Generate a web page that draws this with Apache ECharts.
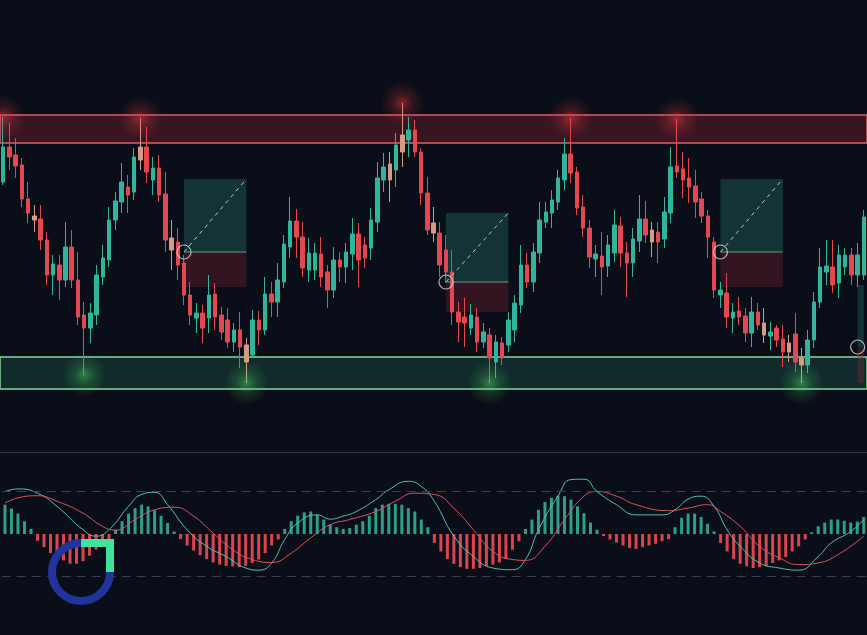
<!DOCTYPE html>
<html>
<head>
  <meta charset="utf-8">
  <title>Range chart</title>
  <script src="https://cdn.jsdelivr.net/npm/echarts@6/dist/echarts.min.js"></script>
  <style>
    html, body { margin: 0; padding: 0; background: #0a0e18; }
    #main { width: 867px; height: 635px; }
  </style>
</head>
<body>
  <div id="main"></div>
  <script>
  // candles: [open, close, low, high]
  var ohlc = [
    [67.5,76.25,66.75,83.75],[76.25,73.75,70.5,82.25],[74.25,71.5,68.5,78.5],[71.75,63.25,61.25,73.5],
    [63.25,59.75,57.25,67.5],[59,58,55,61.75],[58.25,53,50.5,61.75],[53,44.25,41.75,55],
    [44.25,47,39.25,49.25],[46.75,43,38,49.25],[43,51.25,41.25,57.5],[51.25,43,41,55.5],
    [43,33.75,31.75,50],[34.25,31,19.25,37.5],[31,34.75,27.25,37.25],[34.25,44.25,31.75,46.75],
    [43.75,48.5,41.75,51.75],[48,58,46.25,61.25],[58,62.75,55.5,65],[62.5,67.5,59.75,72.25],
    [66.25,64.25,59.75,69.25],[65,73.75,63,76],[76.25,73,70.5,83.5],[76.25,70,67.25,81.25],
    [68,71,64.25,73.75],[71,64.25,62.5,74.25],[64.5,53,50,70],[53.5,50.5,45.5,58],
    [52.5,46.75,43,56],[47.25,39.25,36.75,49.25],[39.25,34.25,31.75,42.5],[33.5,34.75,29.75,37.25],
    [34.75,31,27.25,36.75],[33.5,39.25,29.75,44.25],[39.5,33.75,30.5,42.25],[34.25,30,28,36.25],
    [33,27.5,26,36],[27.5,30.5,25,32.25],[30.5,26.25,21,35],[26.75,22.5,17.25,28.5],
    [24.25,33,23.75,35.5],[33,30.5,26.75,35.25],[30.5,39.5,29.25,43.75],[39.5,37.5,33.75,42.5],
    [37.5,43,33.75,47.25],[42.5,52,41,54.25],[51.25,57.75,48.5,63.75],[57.75,53.75,48.5,60.75],
    [53.75,46,43.75,57.5],[45.5,49.75,42.5,53.5],[45.5,49.75,43,52.25],[49.5,43.75,41.25,53.75],
    [45,40.5,36,46.75],[40.5,48,38.5,51.25],[48,46.25,42.5,50],[46.25,50,42.25,52.25],
    [49.5,54.5,45.5,58.5],[54.5,48,41.25,57.25],[51.75,48.5,46,53.75],[51,58,48,61],
    [57.5,68.5,55,72.5],[68,71.25,65,74.75],[72,68,62.5,75],[70.5,76.75,66.25,79.75],
    [79.25,75,71.25,87.25],[78,80.5,73.75,83.75],[80.5,75,73.75,83],[75,64.75,61.75,76],
    [64.75,55.5,54.25,68.75],[57.25,54.75,52.5,61.25],[54.75,46.75,43.75,57.5],[50.5,45,42.25,54.25],
    [45,35,31.75,50.5],[35,32.5,27.5,37.5],[33.75,32.25,26.25,38.5],[31,34.25,29.25,37],
    [33.75,27.5,25,36],[27.5,30,26,32.25],[29.25,23.5,17.25,31],[22.5,27.5,18.5,29.25],
    [27.25,23.5,21.75,28.75],[26.75,33,25,35],[30.5,37.25,27.5,39.25],[36.75,46.75,34.75,51.75],
    [46.75,42.5,41,49.75],[42.5,50,40,52.25],[49.75,58,47.25,62.5],[57.5,60,56,62.5],
    [59.75,63,56,65.5],[62.5,68.5,60.5,70.5],[68,74.5,65.5,78.5],[74.5,69.75,67.25,83.5],
    [70,61,59.25,71.25],[61.25,56,53.75,64.25],[56,48.75,46,58],[48.25,49.5,43.75,51.75],
    [49,46.25,39.25,55],[46.5,51.75,43.75,54.25],[49.75,56.75,47.5,60.5],[56.5,49.75,46.25,58.75],
    [49.75,47.25,38.75,52.5],[47.25,53.25,43.75,56],[52.75,58.25,50,64.25],[58.25,54.25,52.25,62.75],
    [52.5,55.5,48.75,57.5],[55,52.5,47.25,57.5],[53.25,60,51,63.75],[59.75,71.25,57.25,76.25],
    [71.5,70,68.5,83.25],[70.75,68,63.5,75],[68.5,66.25,62.25,73.5],[66.5,62.5,58.5,70.5],
    [63.25,59,57.25,65],[59,53.75,48.5,60.5],[52.5,40.5,38.5,53.75],[39.25,40.5,36,42.5],
    [39.75,33.75,31,44.75],[33.5,35,29.75,37.25],[35.25,33.75,31.75,38.75],[34,29.75,27.5,36],
    [29.75,35,26.25,38.75],[35,31.75,30.5,37.25],[32.25,29.25,27.25,36],[29,30,25.5,32.5],
    [31,28,26.25,31.75],[28.25,25,21.25,31.75],[27.25,25,22.5,29.25],[29.5,22.5,20,34.75],
    [23.5,21.75,17.25,26],[21.75,28,19.75,30.5],[28,37.5,26,40],[37.5,46.25,36,51],
    [45,46.5,41.75,53],[46.25,41.75,39.75,53],[42.25,49.25,38.5,51.75],[46.25,49.25,44.25,51],
    [49.25,44.25,41.75,51],[44.25,49.25,41.25,52.25],[44.25,58.75,43,60.5]
  ];
  var dojiIdx = [5, 22, 27, 39, 62, 64, 69, 104, 122, 126, 128];

  var resistanceZone = [77.25, 84.25];
  var supportZone = [15.75, 23.75];
  var peakIdx = [0, 22, 64, 91, 108];
  var troughIdx = [13, 39, 78, 128];

  // last one runs off the right edge, so no target line is drawn for it
  var positions = [
    { from: 29, to: 39, entry: 50, target: 68.25, stop: 41.25, open: false },
    { from: 71, to: 81, entry: 42.5, target: 59.75, stop: 35, open: false },
    { from: 115, to: 125, entry: 50, target: 68.25, stop: 41.25, open: false },
    { from: 137, to: 138, entry: 26.25, target: 41.75, stop: 17.25, open: true }
  ];

  var macdHist = [
    0.69,0.6,0.48,0.3,0.12,-0.16,-0.31,-0.45,-0.56,-0.62,-0.7,-0.7,-0.64,-0.51,-0.37,-0.21,-0.13,
    0.1,0.3,0.48,0.61,0.69,0.65,0.56,0.43,0.26,0.06,
    -0.12,-0.27,-0.39,-0.5,-0.59,-0.67,-0.72,-0.75,-0.76,-0.78,-0.75,-0.68,-0.6,-0.45,-0.27,-0.13,
    0.12,0.3,0.43,0.51,0.53,0.45,0.34,0.22,0.16,0.12,0.14,0.22,0.3,0.43,0.61,0.69,0.71,0.71,0.69,0.61,0.53,0.34,0.16,
    -0.21,-0.41,-0.59,-0.7,-0.78,-0.82,-0.82,-0.8,-0.75,-0.72,-0.67,-0.59,-0.37,-0.17,
    0.12,0.34,0.57,0.75,0.85,0.9,0.89,0.81,0.65,0.49,0.27,0.1,
    -0.05,-0.13,-0.2,-0.27,-0.33,-0.35,-0.31,-0.27,-0.23,-0.17,-0.12,
    0.16,0.38,0.48,0.48,0.4,0.24,0.06,
    -0.21,-0.41,-0.59,-0.7,-0.76,-0.8,-0.78,-0.75,-0.68,-0.62,-0.54,-0.41,-0.29,-0.13,
    0.04,0.18,0.27,0.34,0.34,0.31,0.27,0.29,0.4
  ];
  // [bar index, value]
  var macdLine = [
    [0,1.0],[2,1.06],[5,0.96],[8,0.65],[12,0.1],[14,-0.05],[16,0.1],[19,0.65],[21,0.93],[23,0.98],
    [25,0.69],[28,0.1],[31,-0.29],[34,-0.53],[37,-0.8],[39,-0.85],[41,-0.68],[43,-0.13],[45,0.26],
    [48,0.45],[50,0.35],[52,0.42],[54,0.53],[57,0.81],[59,1.04],[62,1.24],[64,1.12],[66,0.77],
    [69,-0.05],[72,-0.53],[75,-0.8],[78,-0.84],[80,-0.6],[82,0.1],[85,0.89],[87,1.28],[89,1.29],
    [91,1.0],[94,0.69],[97,0.45],[101,0.45],[103,0.57],[105,0.82],[107,0.89],[109,0.65],[111,0.1],
    [113,-0.29],[116,-0.68],[119,-0.8],[122,-0.85],[125,-0.53],[127,-0.21],[130,0.06],[132,0.34]
  ];
  var signalLine = [
    [0,0.73],[2,0.85],[5,0.9],[8,0.77],[12,0.49],[15,0.18],[17,0.09],[20,0.34],[23,0.57],[26,0.63],
    [29,0.42],[32,0.02],[35,-0.37],[38,-0.6],[41,-0.67],[44,-0.45],[47,-0.09],[50,0.22],[53,0.34],
    [57,0.53],[60,0.77],[63,0.96],[66,0.93],[69,0.61],[72,0.1],[75,-0.41],[78,-0.6],[80,-0.62],
    [83,-0.29],[86,0.34],[89,0.89],[91,1.0],[94,0.89],[97,0.69],[102,0.55],[105,0.61],[108,0.69],
    [110,0.53],[113,0.18],[116,-0.29],[119,-0.56],[122,-0.72],[125,-0.68],[128,-0.49],[132,-0.05]
  ];

  var UP = '#2fb59b', DOWN = '#e4474f', DOJI = '#d49c84';
  var bars = ohlc.map(function (d, i) { return i + 1; });
  var macdBars = macdHist.map(function (d, i) { return i + 1; });

  var candleData = ohlc.map(function (d, i) {
    if (dojiIdx.indexOf(i) >= 0) {
      return { value: d, itemStyle: { color: DOJI, color0: DOJI, borderColor: DOJI, borderColor0: DOJI } };
    }
    return d;
  });

  function glow(rgb) {
    return {
      type: 'radial', x: 0.5, y: 0.5, r: 0.5,
      colorStops: [
        { offset: 0, color: 'rgba(' + rgb + ',0.6)' },
        { offset: 0.45, color: 'rgba(' + rgb + ',0.22)' },
        { offset: 1, color: 'rgba(' + rgb + ',0)' }
      ]
    };
  }

  var areas = [
    [{ yAxis: resistanceZone[0], itemStyle: { color: 'rgba(170,40,60,0.3)', borderColor: '#dc5c68', borderWidth: 1.5 } },
     { yAxis: resistanceZone[1] }],
    [{ yAxis: supportZone[0], itemStyle: { color: 'rgba(45,150,120,0.22)', borderColor: '#86d69a', borderWidth: 1.5 } },
     { yAxis: supportZone[1] }]
  ];
  positions.forEach(function (p) {
    areas.push([{ xAxis: p.from, yAxis: p.entry, itemStyle: { color: 'rgba(38,120,110,0.35)', borderWidth: 0 } },
                { xAxis: p.to, yAxis: p.target }]);
    areas.push([{ xAxis: p.from, yAxis: p.stop, itemStyle: { color: 'rgba(150,40,60,0.3)', borderWidth: 0 } },
                { xAxis: p.to, yAxis: p.entry }]);
  });

  var series = [
    {
      type: 'candlestick',
      xAxisIndex: 0, yAxisIndex: 0,
      data: candleData,
      barWidth: 4,
      z: 3,
      itemStyle: { color: UP, color0: DOWN, borderColor: UP, borderColor0: DOWN, borderWidth: 1 },
      markArea: { silent: true, label: { show: false }, data: areas }
    },
    {
      type: 'scatter',
      xAxisIndex: 0, yAxisIndex: 0,
      data: peakIdx.map(function (i) { return [i, ohlc[i][3]]; }),
      symbolSize: 44, z: 4, silent: true,
      itemStyle: { color: glow('255,60,70') }
    },
    {
      type: 'scatter',
      xAxisIndex: 0, yAxisIndex: 0,
      data: troughIdx.map(function (i) { return [i, ohlc[i][2]]; }),
      symbolSize: 44, z: 4, silent: true,
      itemStyle: { color: glow('80,220,100') }
    },
    {
      type: 'scatter',
      xAxisIndex: 0, yAxisIndex: 0,
      data: positions.map(function (p) { return [p.from, p.entry]; }),
      symbolSize: 14, z: 6, silent: true,
      itemStyle: { color: 'rgba(0,0,0,0)', borderColor: '#d3dcda', borderWidth: 1.2 }
    }
  ];
  positions.forEach(function (p) {
    if (p.open) return;
    series.push({
      type: 'line', xAxisIndex: 0, yAxisIndex: 0, z: 5, silent: true,
      data: [[p.from, p.entry], [p.to, p.target]], symbol: 'none',
      lineStyle: { color: '#a9cfc8', width: 1, type: [4, 4] }
    });
    series.push({
      type: 'line', xAxisIndex: 0, yAxisIndex: 0, z: 5, silent: true,
      data: [[p.from, p.entry], [p.to, p.entry]], symbol: 'none',
      lineStyle: { color: '#6f9690', width: 1 }
    });
  });

  series.push({
    type: 'bar', xAxisIndex: 1, yAxisIndex: 1,
    data: macdHist, barWidth: 3,
    itemStyle: { color: function (p) { return p.value >= 0 ? '#2b9f8a' : '#d9454f'; } },
    markLine: {
      silent: true, symbol: 'none', label: { show: false },
      lineStyle: { color: '#3a404c', width: 1, type: [9, 6] },
      data: [{ yAxis: 1 }, { yAxis: -1 }]
    }
  });
  series.push({
    type: 'line', xAxisIndex: 1, yAxisIndex: 1, smooth: true, symbol: 'none', z: 4,
    data: macdLine, lineStyle: { color: '#4fc3b2', width: 1 }
  });
  series.push({
    type: 'line', xAxisIndex: 1, yAxisIndex: 1, smooth: true, symbol: 'none', z: 4,
    data: signalLine, lineStyle: { color: '#e0505a', width: 1 }
  });

  var myChart = echarts.init(document.getElementById('main'));
  myChart.setOption({
    backgroundColor: '#0a0e18',
    animation: false,
    grid: [
      { left: -3, right: -2, top: 12, height: 440 },
      { left: 1.7, right: -2.3, top: 449, height: 170 }
    ],
    xAxis: [
      {
        type: 'category', gridIndex: 0, data: bars, boundaryGap: true,
        axisLine: { show: true, lineStyle: { color: '#363c49', width: 1 } },
        axisTick: { show: false }, axisLabel: { show: false }, splitLine: { show: false }
      },
      {
        type: 'category', gridIndex: 1, data: macdBars, boundaryGap: true,
        axisLine: { show: false }, axisTick: { show: false }, axisLabel: { show: false }
      }
    ],
    yAxis: [
      { type: 'value', gridIndex: 0, min: 0, max: 110, show: false },
      { type: 'value', gridIndex: 1, min: -2, max: 2, show: false }
    ],
    graphic: [
      {
        type: 'arc', z: 100,
        shape: { cx: 81, cy: 572, r: 29, startAngle: 0, endAngle: Math.PI * 1.5, clockwise: true },
        style: { stroke: '#23339c', lineWidth: 8, fill: null }
      },
      {
        type: 'polyline', z: 100,
        shape: { points: [[81, 543], [110, 543], [110, 572]] },
        style: { stroke: '#3fe39c', lineWidth: 8, lineJoin: 'miter', fill: null }
      }
    ],
    series: series
  });
  </script>
</body>
</html>
